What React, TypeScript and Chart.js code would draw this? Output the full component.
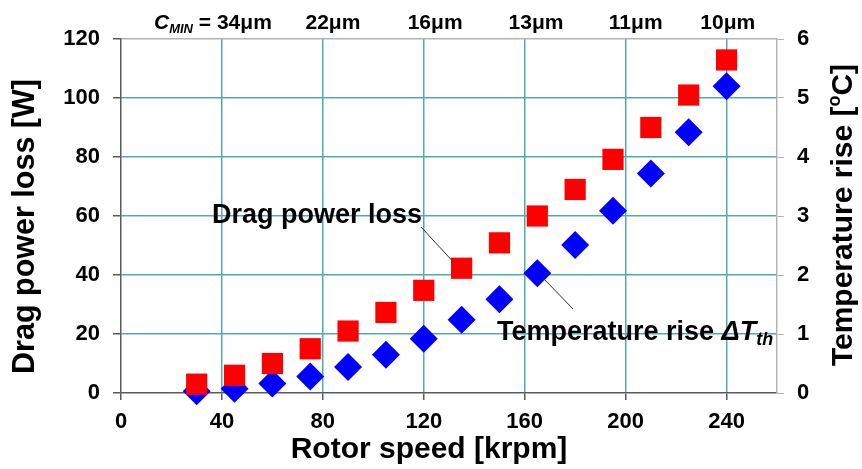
import { useEffect, useRef } from 'react';
import { Chart, registerables } from 'chart.js';

Chart.register(...registerables);

// Rotor speed [krpm] at which each measurement was taken
const rotorSpeed = [30, 45, 60, 75, 90, 105, 120, 135, 150, 165, 180, 195, 210, 225, 240];
// Drag power loss [W]
const dragPowerLoss = [3, 6, 10, 15, 21, 27.3, 34.8, 42.3, 50.9, 60, 69, 79.2, 90, 101, 112.9];
// Temperature rise [°C]
const temperatureRise = [0.03, 0.07, 0.16, 0.28, 0.44, 0.65, 0.92, 1.24, 1.59, 2.03, 2.51, 3.09, 3.72, 4.42, 5.2];

const speedTicks = [0, 40, 80, 120, 160, 200, 240];
const lossTicks = [0, 20, 40, 60, 80, 100, 120];
const tempTicks = [0, 1, 2, 3, 4, 5, 6];

// Minimum clearance at each speed, written above the plot
const clearanceLabels = ['34μm', '22μm', '16μm', '13μm', '11μm', '10μm'];
const clearanceSpeeds = [48.9, 84, 124.5, 164.5, 204, 240.5];

const FONT = '"Liberation Sans", Arial, Helvetica, sans-serif';
const GRID = '#52abab';
const AXIS_DARK = '#5a5a5a';
const AXIS_LIGHT = '#b4b4b4';

type Run = { text: string; size: number; italic?: boolean; dy?: number };

function fontOf(r: Run) {
  return `${r.italic ? 'italic ' : ''}bold ${r.size}px ${FONT}`;
}

function runsWidth(ctx: CanvasRenderingContext2D, runs: Run[]) {
  let w = 0;
  for (const r of runs) {
    ctx.font = fontOf(r);
    w += ctx.measureText(r.text).width;
  }
  return w;
}

function drawRuns(
  ctx: CanvasRenderingContext2D,
  runs: Run[],
  x: number,
  y: number,
  align: 'left' | 'center' | 'right'
) {
  const w = runsWidth(ctx, runs);
  let cx = align === 'center' ? x - w / 2 : align === 'right' ? x - w : x;
  ctx.textAlign = 'left';
  ctx.textBaseline = 'alphabetic';
  for (const r of runs) {
    ctx.font = fontOf(r);
    ctx.fillText(r.text, cx, y + (r.dy || 0));
    cx += ctx.measureText(r.text).width;
  }
}

const textPlugin = {
  id: 'chartText',
  afterDraw(chart: any) {
    const ctx: CanvasRenderingContext2D = chart.ctx;
    const x = chart.scales.x;
    const y = chart.scales.y;
    const y1 = chart.scales.y1;
    ctx.save();
    ctx.fillStyle = '#000';

    // axis titles
    drawRuns(ctx, [{ text: 'Rotor speed [krpm]', size: 30 }], 429, 458, 'center');

    ctx.save();
    ctx.translate(34, 226.5);
    ctx.rotate(-Math.PI / 2);
    drawRuns(ctx, [{ text: 'Drag power loss [W]', size: 30.5 }], 0, 0, 'center');
    ctx.restore();

    ctx.save();
    ctx.translate(852, 215);
    ctx.rotate(-Math.PI / 2);
    drawRuns(
      ctx,
      [
        { text: 'Temperature rise [', size: 30 },
        { text: 'o', size: 18, dy: -12 },
        { text: 'C]', size: 30 },
      ],
      0,
      0,
      'center'
    );
    ctx.restore();

    // clearance labels along the top
    clearanceLabels.forEach((label, i) => {
      const px = x.getPixelForValue(clearanceSpeeds[i]);
      drawRuns(ctx, [{ text: label, size: 21 }], px, 29, 'center');
      if (i === 0) {
        ctx.font = fontOf({ text: label, size: 21 });
        const half = ctx.measureText(label).width / 2;
        drawRuns(
          ctx,
          [
            { text: 'C', size: 21, italic: true },
            { text: 'MIN', size: 13, italic: true, dy: 4 },
            { text: ' = ', size: 21 },
          ],
          px - half,
          29,
          'right'
        );
      }
    });

    // series callouts with leader lines
    drawRuns(ctx, [{ text: 'Drag power loss', size: 27 }], 212, 222.5, 'left');
    drawRuns(
      ctx,
      [
        { text: 'Temperature rise ', size: 27 },
        { text: 'ΔT', size: 27, italic: true },
        { text: 'th', size: 18, italic: true, dy: 5 },
      ],
      497,
      340,
      'left'
    );

    ctx.strokeStyle = '#333';
    ctx.lineWidth = 1;
    const rx = x.getPixelForValue(rotorSpeed[7]);
    const ry = y.getPixelForValue(dragPowerLoss[7]);
    ctx.beginPath();
    ctx.moveTo(421, 227);
    ctx.lineTo(rx - 9, ry - 7);
    ctx.stroke();

    const bx = x.getPixelForValue(rotorSpeed[9]);
    const by = y1.getPixelForValue(temperatureRise[9]);
    ctx.beginPath();
    ctx.moveTo(bx + 6, by + 5);
    ctx.lineTo(573, 309);
    ctx.stroke();

    ctx.restore();
  },
};

export default function App() {
  const ref = useRef<HTMLCanvasElement | null>(null);

  useEffect(() => {
    document.body.style.margin = '0';
    const canvas = ref.current!;
    const tickFont = { family: FONT, size: 22, weight: 'bold' as const };

    const chart = new Chart(canvas, {
      type: 'scatter',
      data: {
        datasets: [
          {
            label: 'Drag power loss',
            data: rotorSpeed.map((s, i) => ({ x: s, y: dragPowerLoss[i] })),
            yAxisID: 'y',
            pointStyle: 'rect',
            pointRadius: 15,
            pointBorderWidth: 0,
            backgroundColor: '#ff0000',
            borderColor: '#ff0000',
            clip: false,
          },
          {
            label: 'Temperature rise',
            data: rotorSpeed.map((s, i) => ({ x: s, y: temperatureRise[i] })),
            yAxisID: 'y1',
            pointStyle: 'rectRot',
            pointRadius: 14,
            pointBorderWidth: 0,
            backgroundColor: '#0000ff',
            borderColor: '#0000ff',
            clip: false,
          },
        ],
      },
      options: {
        responsive: false,
        animation: false,
        events: [],
        layout: { padding: { top: 39, left: 0, right: 0, bottom: 0 } },
        plugins: {
          legend: { display: false },
          tooltip: { enabled: false },
        },
        scales: {
          x: {
            type: 'linear',
            min: 0,
            max: 260,
            afterBuildTicks: (s: any) => {
              s.ticks = speedTicks.map((v) => ({ value: v }));
            },
            afterFit: (s: any) => {
              s.height = 76;
            },
            grid: {
              color: (c: any) => (c.tick && c.tick.value === 0 ? 'rgba(0,0,0,0)' : GRID),
              lineWidth: 1.5,
              tickColor: AXIS_DARK,
              tickLength: 7,
            },
            border: { color: AXIS_DARK, width: 1.5 },
            ticks: { font: tickFont, color: '#000', padding: 9, maxRotation: 0 },
          },
          y: {
            type: 'linear',
            position: 'left',
            min: 0,
            max: 120,
            afterBuildTicks: (s: any) => {
              s.ticks = lossTicks.map((v) => ({ value: v }));
            },
            afterFit: (s: any) => {
              s.width = 121;
            },
            grid: {
              color: (c: any) =>
                c.tick && c.tick.value === 0
                  ? 'rgba(0,0,0,0)'
                  : c.tick && c.tick.value === 120
                  ? AXIS_LIGHT
                  : GRID,
              lineWidth: 1.5,
              tickColor: AXIS_DARK,
              tickLength: 8,
            },
            border: { color: AXIS_DARK, width: 1.5 },
            ticks: { font: tickFont, color: '#000', padding: 13 },
          },
          y1: {
            type: 'linear',
            position: 'right',
            min: 0,
            max: 6,
            afterBuildTicks: (s: any) => {
              s.ticks = tempTicks.map((v) => ({ value: v }));
            },
            afterFit: (s: any) => {
              s.width = 85;
            },
            grid: {
              drawOnChartArea: false,
              color: AXIS_LIGHT,
              tickColor: AXIS_LIGHT,
              tickLength: 7,
            },
            border: { color: AXIS_LIGHT, width: 1.5 },
            ticks: { font: tickFont, color: '#000', padding: 13 },
          },
        },
      },
      plugins: [textPlugin],
    });

    return () => chart.destroy();
  }, []);

  return (
    <div style={{ width: 862, height: 469 }}>
      <canvas ref={ref} width={862} height={469} />
    </div>
  );
}
